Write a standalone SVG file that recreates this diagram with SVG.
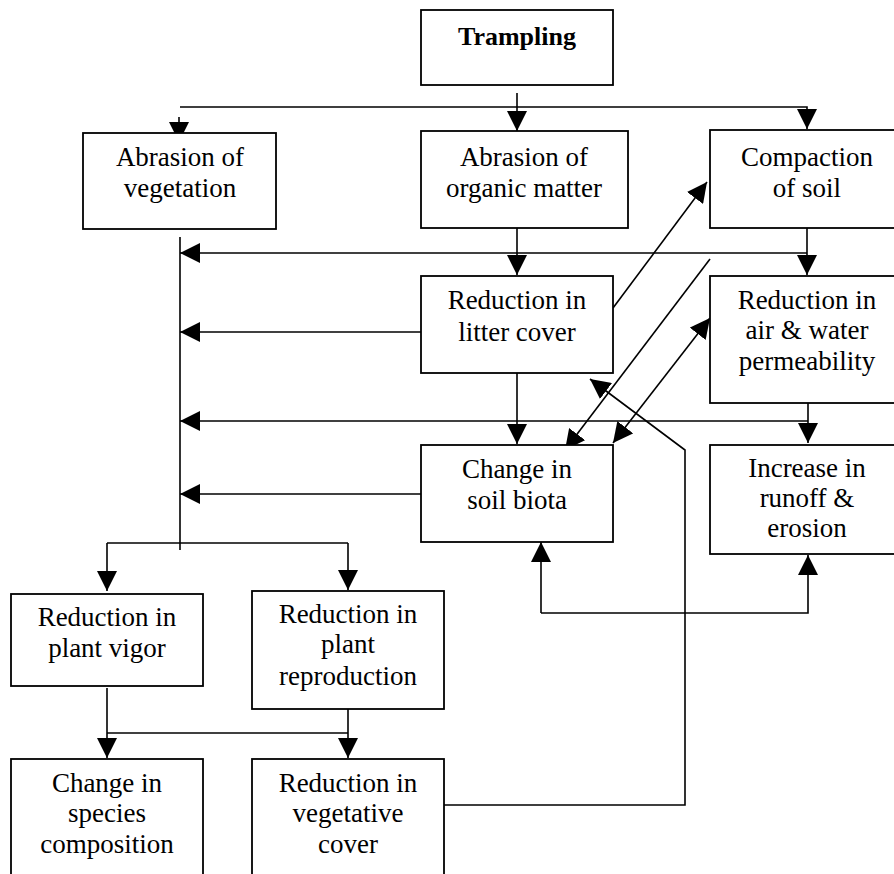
<svg xmlns="http://www.w3.org/2000/svg" width="894" height="874" viewBox="0 0 894 874">
<style>
.box{fill:#fff;stroke:#000;stroke-width:1.8}
.t{font-family:"Liberation Serif","Times New Roman",serif;font-size:27px;text-anchor:middle;fill:#000}
.b{font-weight:bold;font-size:26px}
.c{fill:none;stroke:#000;stroke-width:1.6}
.a{marker-end:url(#ah)}
.d{marker-start:url(#ah);marker-end:url(#ah)}
</style>
<defs>
<marker id="ah" markerUnits="userSpaceOnUse" markerWidth="20" markerHeight="20" refX="20" refY="10" orient="auto-start-reverse">
<path d="M0,0 L20,10 L0,20 z" fill="#000"/>
</marker>
</defs>
<rect width="894" height="874" fill="#fff"/>
<g id="connectors">
<path class="c a" d="M517,93 V131"/>
<path class="c a" d="M180,107 H807 V129"/>
<path class="c a" d="M179,117 V142"/>
<path class="c a" d="M517,228 V275"/>
<path class="c a" d="M807,228 V275"/>
<path class="c a" d="M807,253 H180"/>
<path class="c a" d="M421,332 H180"/>
<path class="c a" d="M517,373 V444"/>
<path class="c a" d="M808,403 V443"/>
<path class="c a" d="M808,421 H180"/>
<path class="c a" d="M421,494 H180"/>
<path class="c" d="M180,237 V550"/>
<path class="c" d="M107,543 H348"/>
<path class="c a" d="M107,543 V591"/>
<path class="c a" d="M348,543 V590"/>
<path class="c a" d="M107,688 V758"/>
<path class="c a" d="M348,709 V758"/>
<path class="c" d="M107,733 H348"/>
<path class="c a" d="M444,805 H685 V450 L590,379"/>
<path class="c a" d="M541,613 V542"/>
<path class="c a" d="M541,613 H808 V555"/>
<path class="c a" d="M613,308 L707,182"/>
<path class="c a" d="M710,259 L565,450"/>
<path class="c d" d="M613,443 L710,318"/>
</g>
<g id="trampling">
<rect class="box" x="421" y="10" width="192" height="75"/>
<text class="t b" x="517" y="45">Trampling</text>
</g>
<g id="abrasion-vegetation">
<rect class="box" x="83" y="133" width="193" height="96"/>
<text class="t" x="180" y="166">Abrasion of</text>
<text class="t" x="180" y="197">vegetation</text>
</g>
<g id="abrasion-organic">
<rect class="box" x="421" y="131" width="207" height="97"/>
<text class="t" x="524" y="166">Abrasion of</text>
<text class="t" x="524" y="197">organic matter</text>
</g>
<g id="compaction">
<rect class="box" x="710" y="130" width="194" height="98"/>
<text class="t" x="807" y="166">Compaction</text>
<text class="t" x="807" y="197">of soil</text>
</g>
<g id="litter">
<rect class="box" x="421" y="276" width="192" height="97"/>
<text class="t" x="517" y="309">Reduction in</text>
<text class="t" x="517" y="341">litter cover</text>
</g>
<g id="permeability">
<rect class="box" x="710" y="276" width="194" height="127"/>
<text class="t" x="807" y="309">Reduction in</text>
<text class="t" x="807" y="339">air &amp; water</text>
<text class="t" x="807" y="370">permeability</text>
</g>
<g id="soil-biota">
<rect class="box" x="421" y="445" width="192" height="97"/>
<text class="t" x="517" y="478">Change in</text>
<text class="t" x="517" y="509">soil biota</text>
</g>
<g id="runoff">
<rect class="box" x="710" y="445" width="194" height="109"/>
<text class="t" x="807" y="477">Increase in</text>
<text class="t" x="807" y="507">runoff &amp;</text>
<text class="t" x="807" y="537">erosion</text>
</g>
<g id="vigor">
<rect class="box" x="11" y="594" width="192" height="92"/>
<text class="t" x="107" y="626">Reduction in</text>
<text class="t" x="107" y="657">plant vigor</text>
</g>
<g id="reproduction">
<rect class="box" x="252" y="591" width="192" height="118"/>
<text class="t" x="348" y="623">Reduction in</text>
<text class="t" x="348" y="653">plant</text>
<text class="t" x="348" y="685">reproduction</text>
</g>
<g id="species">
<rect class="box" x="11" y="759" width="192" height="125"/>
<text class="t" x="107" y="792">Change in</text>
<text class="t" x="107" y="822">species</text>
<text class="t" x="107" y="853">composition</text>
</g>
<g id="vegetative">
<rect class="box" x="252" y="759" width="192" height="125"/>
<text class="t" x="348" y="792">Reduction in</text>
<text class="t" x="348" y="822">vegetative</text>
<text class="t" x="348" y="853">cover</text>
</g>
</svg>
